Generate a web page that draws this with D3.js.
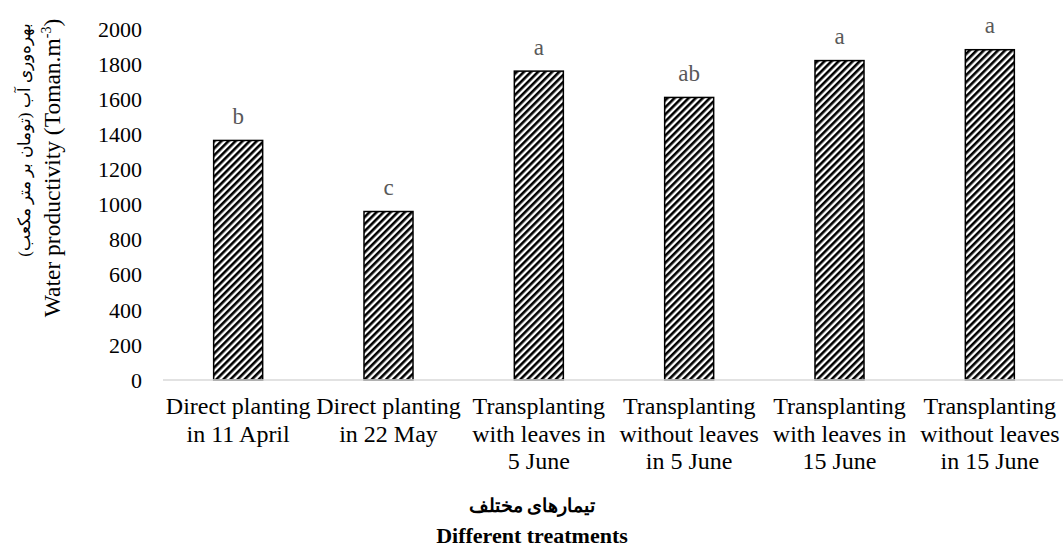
<!DOCTYPE html>
<html>
<head>
<meta charset="utf-8">
<script src="https://cdn.jsdelivr.net/npm/d3@7"></script>
<style>
  body { margin: 0; background: #fff; }
  text { font-family: "Liberation Serif", "Times New Roman", serif; }
</style>
</head>
<body>
<script>
// Chart data
var categories = [
  ["Direct planting", "in 11 April"],
  ["Direct planting", "in 22 May"],
  ["Transplanting", "with leaves in", "5 June"],
  ["Transplanting", "without leaves", "in 5 June"],
  ["Transplanting", "with leaves in", "15 June"],
  ["Transplanting", "without leaves", "in 15 June"]
];
var values = [1365, 960, 1760, 1610, 1820, 1882];
var letters = ["b", "c", "a", "ab", "a", "a"];
var yTicks = [0, 200, 400, 600, 800, 1000, 1200, 1400, 1600, 1800, 2000];

var width = 1063, height = 555;

var svg = d3.select("body")
            .append("svg")
            .attr("width", width)
            .attr("height", height);

// Diagonal stripe fill
var pattern = svg.append("defs")
                 .append("pattern")
                 .attr("id", "stripes")
                 .attr("patternUnits", "userSpaceOnUse")
                 .attr("width", 5)
                 .attr("height", 5)
                 .attr("patternTransform", "rotate(45)");
pattern.append("rect").attr("width", 5).attr("height", 5).attr("fill", "#fff");
pattern.append("rect").attr("width", 2.6).attr("height", 5).attr("fill", "#000");

var idx = d3.range(values.length);

var xScale = d3.scaleBand()
               .domain(idx)
               .range([163, 1065])
               .paddingInner(0.674)
               .paddingOuter(0.337);

var yScale = d3.scaleLinear()
               .domain([0, 2000])
               .range([380, 29]);

// Y tick labels (no tick marks, no axis line)
svg.append("g")
   .selectAll("text")
   .data(yTicks)
   .enter()
   .append("text")
   .attr("x", 142)
   .attr("y", function(d) {return yScale(d);})
   .attr("dy", "0.35em")
   .attr("text-anchor", "end")
   .attr("font-size", 22)
   .attr("fill", "#000")
   .text(function(d) {return d;});

// Bars
svg.selectAll("rect.bar")
   .data(idx)
   .enter()
   .append("rect")
   .attr("class", "bar")
   .attr("x", function(i) {return xScale(i);})
   .attr("y", function(i) {return yScale(values[i]);})
   .attr("width", xScale.bandwidth())
   .attr("height", function(i) {return yScale(0) - yScale(values[i]);})
   .attr("fill", "url(#stripes)")
   .attr("stroke", "#000")
   .attr("stroke-width", 1.5);

// Baseline
svg.append("line")
   .attr("x1", 163)
   .attr("x2", 1063)
   .attr("y1", yScale(0))
   .attr("y2", yScale(0))
   .attr("stroke", "#d9d9d9")
   .attr("stroke-width", 1.5);

// Significance letters
svg.selectAll("text.letter")
   .data(idx)
   .enter()
   .append("text")
   .attr("class", "letter")
   .attr("x", function(i) {return xScale(i) + xScale.bandwidth() / 2;})
   .attr("y", function(i) {return yScale(values[i]) - 16.5;})
   .attr("text-anchor", "middle")
   .attr("font-size", 23)
   .attr("fill", "#595959")
   .text(function(i) {return letters[i];});

// Category labels
var catG = svg.selectAll("text.cat")
              .data(idx)
              .enter()
              .append("text")
              .attr("class", "cat")
              .attr("text-anchor", "middle")
              .attr("font-size", 24)
              .attr("fill", "#000");
catG.selectAll("tspan")
    .data(function(i) {return categories[i].map(function(s) {return {i: i, s: s};});})
    .enter()
    .append("tspan")
    .attr("x", function(d) {return xScale(d.i) + xScale.bandwidth() / 2;})
    .attr("y", function(d, j) {return 414 + j * 27.5;})
    .text(function(d) {return d.s;});

// Y axis titles
svg.append("text")
   .attr("transform", "translate(30,140) rotate(-90)")
   .attr("text-anchor", "middle")
   .attr("font-size", 17)
   .attr("font-family", "'DejaVu Sans', sans-serif")
   .attr("fill", "#000")
   .text("بهره‌وری آب (تومان بر متر مکعب)");

var yTitle = svg.append("text")
                .attr("transform", "translate(60,168) rotate(-90)")
                .attr("text-anchor", "middle")
                .attr("font-size", 23.5)
                .attr("fill", "#000");
yTitle.append("tspan").text("Water productivity (Toman.m");
yTitle.append("tspan").attr("font-size", 14).attr("dy", -9).text("-3");
yTitle.append("tspan").attr("dy", 9).text(")");

// X axis titles
svg.append("text")
   .attr("x", 532)
   .attr("y", 512)
   .attr("text-anchor", "middle")
   .attr("font-size", 19)
   .attr("font-weight", "bold")
   .attr("font-family", "'DejaVu Sans', sans-serif")
   .attr("fill", "#000")
   .text("تیمارهای مختلف");

svg.append("text")
   .attr("x", 532)
   .attr("y", 543)
   .attr("text-anchor", "middle")
   .attr("font-size", 22)
   .attr("font-weight", "bold")
   .attr("fill", "#000")
   .text("Different treatments");
</script>
</body>
</html>
